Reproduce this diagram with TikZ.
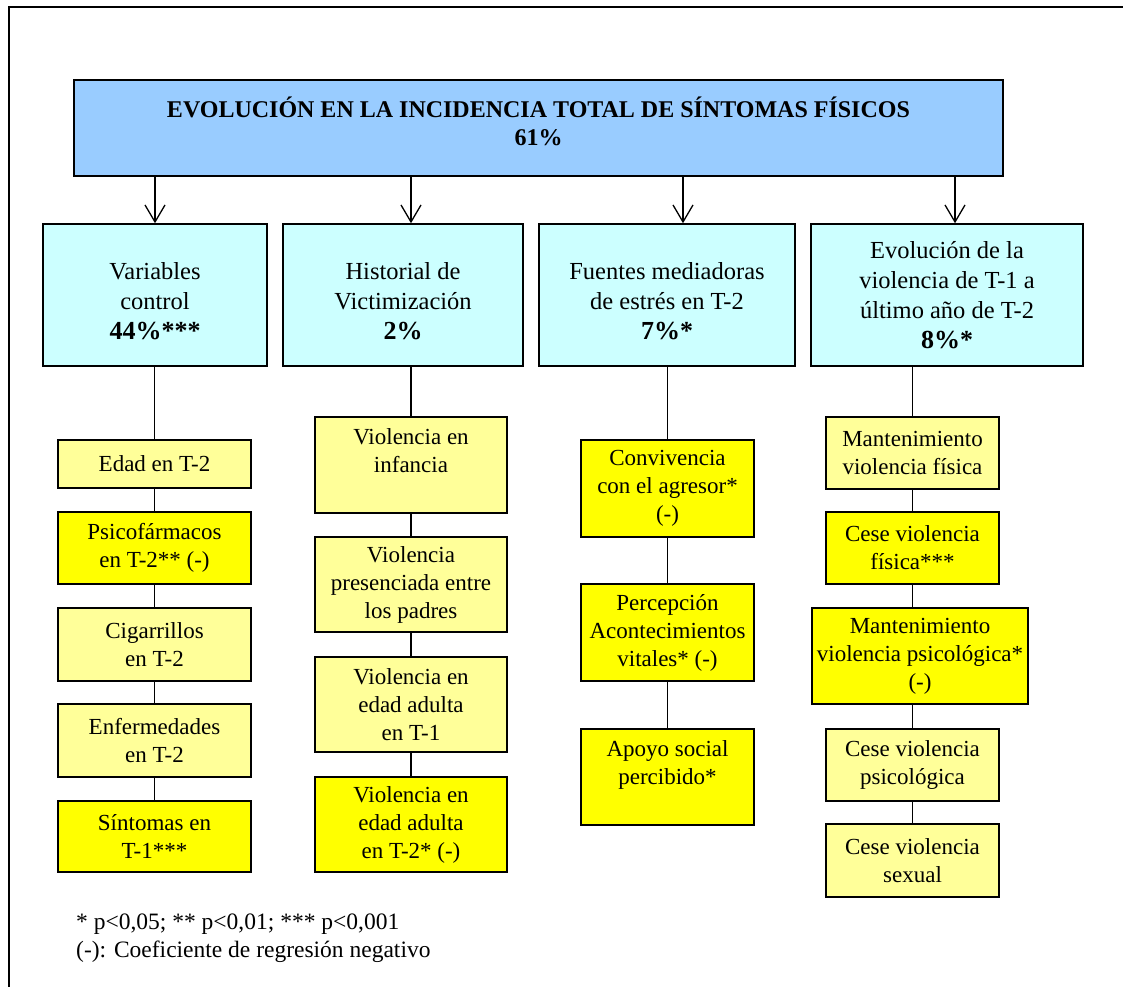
\documentclass[tikz,border=0pt]{standalone}
\usepackage{fontspec}
\setmainfont{Liberation Serif}
\usepackage{tikz}
\usetikzlibrary{positioning,arrows.meta,calc}
\definecolor{headblue}{HTML}{99CCFF}
\definecolor{groupcyan}{HTML}{CCFFFF}
\definecolor{paleyellow}{HTML}{FFFF99}
\definecolor{sigyellow}{HTML}{FFFF00}
\tikzset{
    box/.style = {
        draw,
        shape=rectangle,
        line width=1.5pt,
        inner sep=2pt,
        align=center,
        font=\fontsize{23}{28}\selectfont
    },
    headbox/.style = {
        box,
        fill=headblue,
        minimum width=929pt,
        minimum height=96pt,
        font=\fontsize{24}{28}\selectfont\bfseries
    },
    groupbox/.style = {
        box,
        fill=groupcyan,
        minimum height=142pt,
        font=\fontsize{24.5}{30}\selectfont
    },
    itembox/.style = {
        box,
        fill=paleyellow
    },
    sigbox/.style = {
        box,
        fill=sigyellow
    },
    >={Straight Barb[length=17pt,width=20pt]},
}
\newcommand{\pct}[1]{{\fontsize{26}{30}\selectfont\bfseries #1}}

\begin{document}
\begin{tikzpicture}[x=1pt,y=-1pt]
                \useasboundingbox (0,0) rectangle (1123,987);
                \draw[line width=2pt] (1123,7) -- (9,7) -- (9,987);

                \node[headbox] (head) at (538.5,128) {EVOLUCIÓN EN LA INCIDENCIA TOTAL DE SÍNTOMAS FÍSICOS\\61\%\\[-14pt]\mbox{}};

                \node[groupbox,minimum width=224pt] (ctrl) at (155,295) {\mbox{}\\Variables\\control\\\pct{44\%***}};
                \node[groupbox,minimum width=240pt] (hist) at (403,295) {\mbox{}\\Historial de\\Victimización\\\pct{2\%}};
                \node[groupbox,minimum width=256pt] (estres) at (667,295) {\mbox{}\\Fuentes mediadoras\\de estrés en T-2\\\pct{7\%*}};
                \node[groupbox,minimum width=272pt] (evol) at (947,295) {Evolución de la\\violencia de T-1 a\\último año de T-2\\\pct{8\%*}};

                % variables control
                \node[itembox,minimum width=193pt,minimum height=48pt] (edad) at (154.5,464) {Edad en T-2};
                \node[sigbox,minimum width=193pt,minimum height=72pt] (psico) at (154.5,548) {Psicofármacos\\en T-2** (-)};
                \node[itembox,minimum width=193pt,minimum height=73pt] (cigar) at (154.5,644.5) {Cigarrillos\\en T-2};
                \node[itembox,minimum width=193pt,minimum height=73pt] (enferm) at (154.5,740.5) {Enfermedades\\en T-2};
                \node[sigbox,minimum width=193pt,minimum height=71pt] (sintom) at (154.5,836.5) {Síntomas en\\T-1***};

                % historial de victimizacion
                \node[itembox,minimum width=192pt,minimum height=96pt] (infancia) at (411,465) {Violencia en\\infancia\\\mbox{}};
                \node[itembox,minimum width=192pt,minimum height=95pt] (padres) at (411,584.5) {Violencia\\presenciada entre\\los padres};
                \node[itembox,minimum width=192pt,minimum height=95pt] (adultaA) at (411,704.5) {Violencia en\\edad adulta\\en T-1};
                \node[sigbox,minimum width=192pt,minimum height=95pt] (adultaB) at (411,824.5) {Violencia en\\edad adulta\\en T-2* (-)};

                % fuentes mediadoras
                \node[sigbox,minimum width=173pt,minimum height=97pt] (convive) at (667.5,488.5) {Convivencia\\con el agresor*\\(-)};
                \node[sigbox,minimum width=173pt,minimum height=97pt] (acontec) at (667.5,632.5) {Percepción\\Acontecimientos\\vitales* (-)};
                \node[sigbox,minimum width=173pt,minimum height=96pt] (apoyo) at (667.5,777) {Apoyo social\\percibido*\\\mbox{}};

                % evolucion de la violencia
                \node[itembox,minimum width=173pt,minimum height=72pt] (mantfis) at (912.5,453) {Mantenimiento\\violencia física};
                \node[sigbox,minimum width=173pt,minimum height=72pt] (cesefis) at (912.5,548) {Cese violencia\\física***};
                \node[sigbox,minimum width=216pt,minimum height=96pt] (mantpsi) at (920,656) {Mantenimiento\\violencia psicológica*\\(-)};
                \node[itembox,minimum width=173pt,minimum height=72pt] (cesepsi) at (912.5,765) {Cese violencia\\psicológica};
                \node[itembox,minimum width=173pt,minimum height=73pt] (cesesex) at (912.5,860.5) {Cese violencia\\sexual};

                \node[anchor=north west,align=left,inner sep=0pt,font=\fontsize{23.5}{28}\selectfont] (nota) at (76,914) {* p<0,05; ** p<0,01; *** p<0,001\\(-): Coeficiente de regresión negativo};

                \path[draw,line width=1.3pt,->] (ctrl.north |- head.south) -- (ctrl.north);
                \path[draw,line width=1.3pt,->] ($(hist.north |- head.south)+(8,0)$) -- ($(hist.north)+(8,0)$);
                \path[draw,line width=1.3pt,->] ($(estres.north |- head.south)+(16,0)$) -- ($(estres.north)+(16,0)$);
                \path[draw,line width=1.3pt,->] ($(evol.north |- head.south)+(8,0)$) -- ($(evol.north)+(8,0)$);

                \path[draw,line width=1.3pt] (ctrl.south -| edad.north) -- (edad.north);
                \path[draw,line width=1.3pt] (edad) -- (psico);
                \path[draw,line width=1.3pt] (psico) -- (cigar);
                \path[draw,line width=1.3pt] (cigar) -- (enferm);
                \path[draw,line width=1.3pt] (enferm) -- (sintom);

                \path[draw,line width=1.3pt] (hist.south -| infancia.north) -- (infancia.north);
                \path[draw,line width=1.3pt] (infancia) -- (padres);
                \path[draw,line width=1.3pt] (padres) -- (adultaA);
                \path[draw,line width=1.3pt] (adultaA) -- (adultaB);

                \path[draw,line width=1.3pt] (estres.south -| convive.north) -- (convive.north);
                \path[draw,line width=1.3pt] (convive) -- (acontec);
                \path[draw,line width=1.3pt] (acontec) -- (apoyo);

                \path[draw,line width=1.3pt] (evol.south -| mantfis.north) -- (mantfis.north);
                \path[draw,line width=1.3pt] (mantfis) -- (cesefis);
                \path[draw,line width=1.3pt] (cesefis.south) -- (cesefis.south |- mantpsi.north);
                \path[draw,line width=1.3pt] (cesepsi.north |- mantpsi.south) -- (cesepsi.north);
                \path[draw,line width=1.3pt] (cesepsi) -- (cesesex);
            \end{tikzpicture}
\end{document}
